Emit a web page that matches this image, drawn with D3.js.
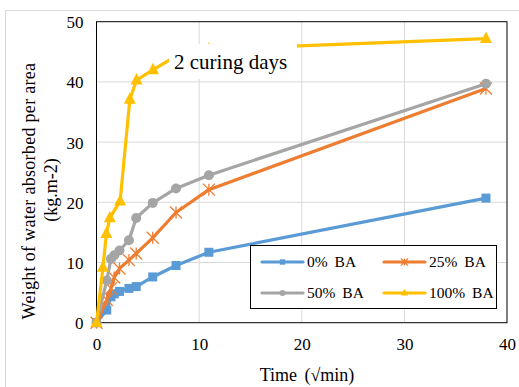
<!DOCTYPE html>
<html><head><meta charset="utf-8">
<script src="https://cdn.jsdelivr.net/npm/d3@7"></script>
<style>
html,body{margin:0;padding:0;background:#fff;}
svg{display:block;}
</style></head>
<body>
<svg id="c" width="519" height="387" font-family="Liberation Serif"></svg>
<script>
// ---- data ----
const xTime = [0, 1, 1.41, 1.73, 2.24, 3.16, 3.87, 5.48, 7.75, 10.95, 37.95];
const ba0   = [0, 2.1, 4.3, 4.8, 5.2, 5.7, 6.0, 7.6, 9.5, 11.7, 20.7];
const ba25  = [0, 3.8, 5.7, 7.5, 9.0, 10.4, 11.5, 14.1, 18.3, 22.1, 38.9];
const ba50  = [0, 7.0, 10.6, 11.2, 12.0, 13.7, 17.4, 19.9, 22.3, 24.5, 39.7];
const xTime100 = [0, 0.63, 0.96, 1.3, 2.3, 3.25, 3.9, 5.5, 7.75, 10.95, 37.95];
const ba100 = [0, 9.2, 14.8, 17.4, 20.2, 37.1, 40.3, 42.0, 44.3, 45.4, 47.2];
const seriesNames = ["0% BA", "25% BA", "50% BA", "100% BA"];
const xTicks = [0, 10, 20, 30, 40];
const yTicks = [0, 10, 20, 30, 40, 50];
const annotation = "2 curing days";
const xTitle = "Time (\u221Amin)";
const yTitle1 = "Weight of water absorbed per area";
const yTitle2 = "(kg.m-2)";

const colors = ["#5B9BD5", "#ED7D31", "#A5A5A5", "#FFC000"];
const markers = ["square", "star", "circle", "triangle"];
const series = [
  {name: seriesNames[0], xs: xTime, ys: ba0},
  {name: seriesNames[1], xs: xTime, ys: ba25},
  {name: seriesNames[2], xs: xTime, ys: ba50},
  {name: seriesNames[3], xs: xTime100, ys: ba100}
];

const FONT = "'Liberation Serif', 'Times New Roman', serif";
const svg = d3.select("#c");
const L = 96.5, R = 507, T = 21.7, B = 322.7;
const x = d3.scaleLinear().domain([0, 40]).range([L, R]);
const y = d3.scaleLinear().domain([0, 50]).range([B, T]);

// outer chart border
svg.append("rect").attr("x", 5.5).attr("y", 10.5).attr("width", 530).attr("height", 400)
  .attr("fill", "#fff").attr("stroke", "#d9d9d9").attr("stroke-width", 1);

// gridlines
const g = svg.append("g");
g.selectAll(".hg").data(yTicks.slice(1, -1)).join("line")
  .attr("x1", L).attr("x2", R).attr("y1", d => y(d)).attr("y2", d => y(d))
  .attr("stroke", "#d9d9d9").attr("stroke-width", 1);
g.selectAll(".vg").data(xTicks.slice(1, -1)).join("line")
  .attr("y1", T).attr("y2", B).attr("x1", d => x(d)).attr("x2", d => x(d))
  .attr("stroke", "#d9d9d9").attr("stroke-width", 1);

// plot border
svg.append("rect").attr("x", L).attr("y", T).attr("width", R - L).attr("height", B - T)
  .attr("fill", "none").attr("stroke", "#000").attr("stroke-width", 1);

// axes (labels only)
const xa = svg.append("g").attr("transform", `translate(0,${B + 15})`)
  .call(d3.axisBottom(x).tickValues(xTicks).tickSize(0).tickPadding(0));
xa.attr("font-family", FONT).attr("font-size", 17);
xa.select(".domain").remove();
xa.selectAll("text").attr("dy", "0.71em").attr("fill", "#000");
const ya = svg.append("g").attr("transform", `translate(${L - 13},0)`)
  .call(d3.axisLeft(y).tickValues(yTicks).tickSize(0).tickPadding(0));
ya.attr("font-family", FONT).attr("font-size", 17);
ya.select(".domain").remove();
ya.selectAll("text").attr("dy", "0.35em").attr("fill", "#000");

// titles
svg.append("text").attr("x", 307).attr("y", 381).attr("text-anchor", "middle")
  .attr("font-size", 18).attr("word-spacing", 3).text(xTitle);
svg.append("text").attr("transform", "translate(35,191) rotate(-90)").attr("text-anchor", "middle")
  .attr("font-size", 18).attr("letter-spacing", 0.3).text(yTitle1);
svg.append("text").attr("transform", "translate(57,190) rotate(-90)").attr("text-anchor", "middle")
  .attr("font-size", 18).text(yTitle2);

// marker drawing
function drawMarker(sel, type, color, s) {
  if (type === "square") {
    sel.append("rect").attr("x", -s/2).attr("y", -s/2).attr("width", s).attr("height", s).attr("fill", color);
  } else if (type === "circle") {
    sel.append("circle").attr("r", s/2).attr("fill", color);
  } else if (type === "triangle") {
    const h = s * 0.95;
    sel.append("path").attr("d", `M0,${-h*0.62}L${s/2},${h*0.38}L${-s/2},${h*0.38}Z`).attr("fill", color);
  } else if (type === "star") {
    const r = s/2;
    sel.append("path").attr("d", `M${-r},${-r}L${r},${r}M${-r},${r}L${r},${-r}M0,${-r}L0,${r}`)
      .attr("stroke", color).attr("stroke-width", 1.3).attr("fill", "none");
  }
}
const sizes = [9, 12, 10, 12];

const line = d3.line().x(d => x(d[0])).y(d => y(d[1]));
series.forEach((s, i) => {
  const pts = s.xs.map((v, j) => [v, s.ys[j]]);
  svg.append("path").datum(pts).attr("d", line).attr("fill", "none")
    .attr("stroke", colors[i]).attr("stroke-width", 3.2).attr("stroke-linejoin", "round");
  svg.append("g").selectAll("g").data(pts).join("g")
    .attr("transform", d => `translate(${x(d[0])},${y(d[1])})`)
    .each(function() { drawMarker(d3.select(this), markers[i], colors[i], sizes[i]); });
});

// annotation label with white box
svg.append("rect").attr("x", 169).attr("y", 44).attr("width", 128).attr("height", 35).attr("fill", "#fff");
svg.append("text").attr("x", 174).attr("y", 68.5).attr("font-size", 21).text(annotation);

// legend
const lg = svg.append("g");
lg.append("rect").attr("x", 250.5).attr("y", 245.5).attr("width", 246).attr("height", 63)
  .attr("fill", "#fff").attr("stroke", "#000").attr("stroke-width", 1);
const legPos = [[262, 262], [384, 262], [262, 293], [384, 293]];
series.forEach((s, i) => {
  const [lx, ly] = legPos[i];
  lg.append("line").attr("x1", lx).attr("x2", lx + 41).attr("y1", ly).attr("y2", ly)
    .attr("stroke", colors[i]).attr("stroke-width", 3.2).attr("stroke-linecap", "round");
  const m = lg.append("g").attr("transform", `translate(${lx + 20.5},${ly})`);
  drawMarker(m, markers[i], colors[i], sizes[i] * 0.6);
  lg.append("text").attr("x", lx + 45).attr("y", ly).attr("dy", "0.35em")
    .attr("font-size", 15.5).attr("word-spacing", 3).text(s.name);
});

svg.selectAll("text").style("font-family", FONT).attr("fill", "#000");
</script>
</body></html>
